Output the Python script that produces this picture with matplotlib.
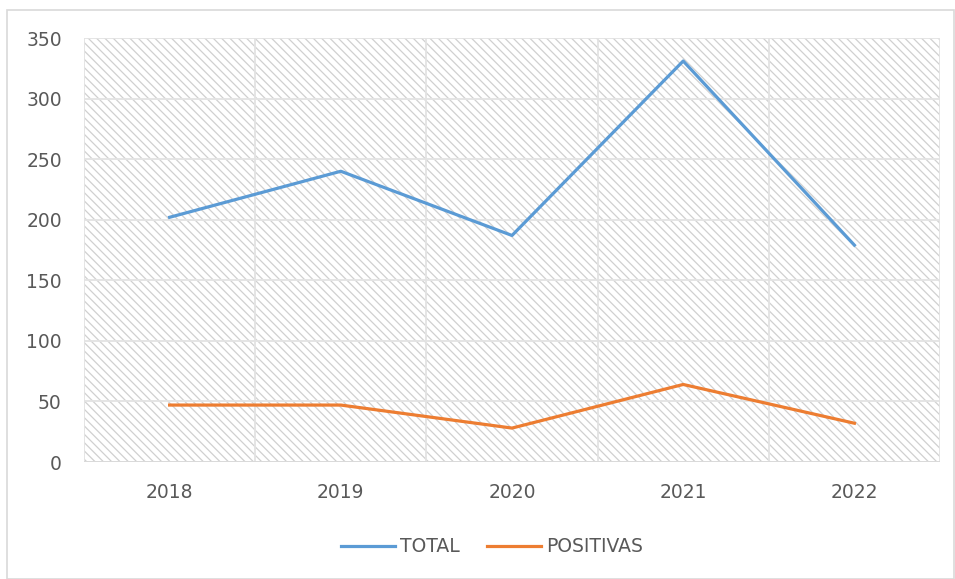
import numpy as np
import matplotlib.pyplot as plt
from matplotlib.patches import Rectangle

years = ['2018', '2019', '2020', '2021', '2022']
total = [202, 240, 187, 331, 179]
positivas = [47, 47, 28, 64, 32]

plt.rcParams['hatch.color'] = '#d0d0d0'
plt.rcParams['hatch.linewidth'] = 0.9

fig = plt.figure(figsize=(9.55, 5.79), dpi=100)
ax = fig.add_axes([84/955, 117/579, 856/955, 424/579])

# outer chart border
fig.patches.append(Rectangle((7/955, 0), 947/955, 569/579, transform=fig.transFigure,
                             fill=False, edgecolor='#d9d9d9', linewidth=1.2))

# hatched plot area
ax.add_patch(Rectangle((0, 0), 1, 1, transform=ax.transAxes, facecolor='white',
                       edgecolor='#d0d0d0', hatch='\\\\\\\\', linewidth=0, zorder=0))

x = np.arange(len(years))
ax.plot(x, total, color='#5b9bd5', linewidth=2.3, label='TOTAL', zorder=3)
ax.plot(x, positivas, color='#ed7d31', linewidth=2.3, label='POSITIVAS', zorder=3)

ax.set_xlim(-0.5, len(years) - 0.5)
ax.set_ylim(0, 350)
ax.set_yticks(np.arange(0, 351, 50))
ax.set_xticks(x)
ax.set_xticklabels(years)
ax.set_xticks(np.arange(-0.5, len(years), 1), minor=True)
ax.grid(axis='y', color='#e3e3e3', linewidth=1.3, zorder=1)
ax.grid(axis='x', which='minor', color='#e3e3e3', linewidth=1.3, zorder=1)
ax.set_axisbelow(True)
ax.tick_params(which='both', length=0, labelsize=13.5, labelcolor='#595959')
ax.tick_params(axis='y', pad=16)
ax.tick_params(axis='x', pad=15)
for s in ax.spines.values():
    s.set_visible(False)
ax.axhline(0, color='#d9d9d9', linewidth=1.3, zorder=2)

leg = fig.legend(loc='center', bbox_to_anchor=(492/955, 1 - 547/579), ncol=2, frameon=False,
                 fontsize=13.5, handlelength=2.9, handletextpad=0.27, columnspacing=1.45)
for t in leg.get_texts():
    t.set_color('#595959')

fig.savefig('out.png', dpi=100)
